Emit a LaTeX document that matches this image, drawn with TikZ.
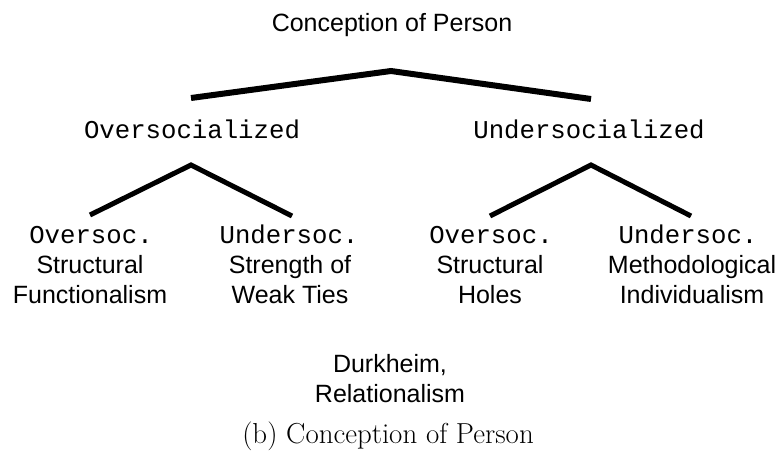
\documentclass[tikz,border=0pt]{standalone}
\usepackage{fontspec}
\newfontfamily\sansf{Liberation Sans}
\newfontfamily\monof{Liberation Mono}
\begin{document}
\begin{tikzpicture}[x=1pt,y=-1pt,
  sanslbl/.style={font=\sansf\fontsize{25}{30}\selectfont, inner sep=0pt, anchor=base, align=center},
  monolbl/.style={font=\monof\fontsize{25.7}{30}\selectfont, inner sep=0pt, anchor=base},
  caplbl/.style={font=\fontsize{28.9}{32}\selectfont, inner sep=0pt, anchor=base},
  branch/.style={line width=6pt, line join=miter},
  subbranch/.style={line width=5pt, line join=miter}]
\useasboundingbox (0,0) rectangle (779,463);
% texts (base anchor = baseline of the last line)
\node[sanslbl] (root) at (392,31) {Conception of Person};
\node[monolbl] (over) at (192,138) {Oversocialized};
\node[monolbl] (under) at (589,138) {Undersocialized};
\node[monolbl] (oo) at (91,243) {Oversoc.};
\node[monolbl] (ou) at (289,243) {Undersoc.};
\node[monolbl] (uo) at (491,243) {Oversoc.};
\node[monolbl] (uu) at (688,243) {Undersoc.};
\node[sanslbl] (sf) at (90,303) {Structural\\Functionalism};
\node[sanslbl] (sw) at (290,303) {Strength of\\Weak Ties};
\node[sanslbl] (sh) at (490,303) {Structural\\Holes};
\node[sanslbl] (mi) at (692,303) {Methodological\\Individualism};
\node[sanslbl] (dr) at (390,402) {Durkheim,\\Relationalism};
\node[caplbl] (cap) at (388,443) {(b) Conception of Person};
% branch points
\coordinate (rootapex) at (391,71);
\coordinate (rootL) at (191,98);
\coordinate (rootR) at (591,99);
\coordinate (overapex) at (191,165);
\coordinate (overL) at (90,215);
\coordinate (overR) at (292,216);
\coordinate (underapex) at (591,165);
\coordinate (underL) at (490,216);
\coordinate (underR) at (691,216);
\draw[branch] (rootL) -- (rootapex) -- (rootR);
\draw[subbranch] (overL) -- (overapex) -- (overR);
\draw[subbranch] (underL) -- (underapex) -- (underR);
\end{tikzpicture}
\end{document}
